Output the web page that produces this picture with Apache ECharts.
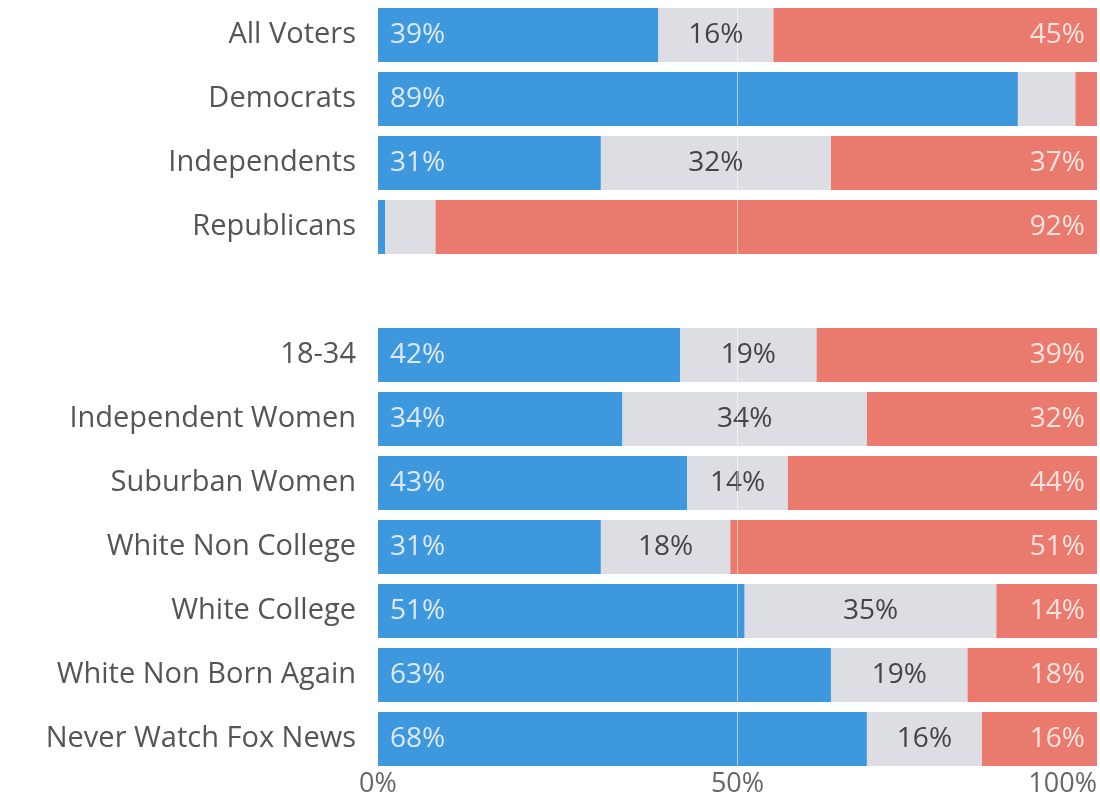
<!DOCTYPE html>
<html>
<head>
<meta charset="utf-8">
<script src="https://cdn.jsdelivr.net/npm/echarts@6/dist/echarts.min.js"></script>
<style>
html,body{margin:0;padding:0;background:#fff;}
#chart{width:1100px;height:799px;}
</style>
</head>
<body>
<div id="chart"></div>
<script>
const categories = ['All Voters','Democrats','Independents','Republicans','','18-34','Independent Women','Suburban Women','White Non College','White College','White Non Born Again','Never Watch Fox News'];
const demValues = [39, 89, 31, 1, '-', 42, 34, 43, 31, 51, 63, 68];
const undecidedValues = [16, 8, 32, 7, '-', 19, 34, 14, 18, 35, 19, 16];
const repValues = [45, 3, 37, 92, '-', 39, 32, 44, 51, 14, 18, 16];
const xTicks = [0, 50, 100];

const FONT = '"Open Sans"';
const chart = echarts.init(document.getElementById('chart'), null, {renderer: 'canvas'});
const fmt = p => (typeof p.value === 'number' && p.value >= 10) ? p.value + '%' : '';
chart.setOption({
  animation: false,
  grid: {left: 378, right: 2, top: 3, bottom: 28, containLabel: false},
  xAxis: {
    type: 'value', min: xTicks[0], max: xTicks[xTicks.length-1], interval: 50,
    axisLine: {show: false}, axisTick: {show: false},
    splitLine: {show: false},
    axisLabel: {formatter: '{value}%', color: '#666', fontFamily: FONT, fontSize: 27, margin: 0, alignMaxLabel: 'right'}
  },
  yAxis: {
    type: 'category', data: categories, inverse: true,
    axisLine: {show: false}, axisTick: {show: false},
    axisLabel: {color: '#555', fontFamily: FONT, fontSize: 29, margin: 22}
  },
  series: [
    {name: 'Dem', type: 'bar', stack: 's', barWidth: 54, data: demValues,
     itemStyle: {color: '#3d98dd'},
     label: {show: true, position: 'insideLeft', distance: 12, formatter: fmt, color: '#dde9f4', fontFamily: FONT, fontSize: 28},
     markLine: {silent: true, symbol: 'none', label: {show: false}, lineStyle: {color: 'rgba(255,255,255,0.55)', width: 1, type: 'solid'}, data: [{xAxis: 50}], z: 10}
    },
    {name: 'Undecided', type: 'bar', stack: 's', barWidth: 54, data: undecidedValues,
     itemStyle: {color: '#dcdee3'},
     label: {show: true, position: 'inside', formatter: fmt, color: '#444', fontFamily: FONT, fontSize: 28}
    },
    {name: 'Rep', type: 'bar', stack: 's', barWidth: 54, data: repValues,
     itemStyle: {color: '#ea7a6d'},
     label: {show: true, position: 'insideRight', distance: 12, formatter: fmt, color: '#f6e3df', fontFamily: FONT, fontSize: 28}
    }
  ]
});
</script>
</body>
</html>
